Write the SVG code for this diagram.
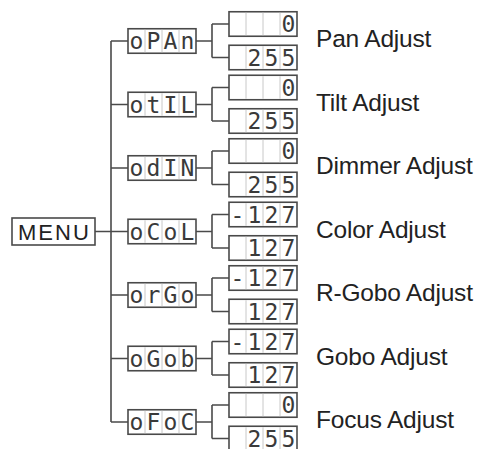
<svg xmlns="http://www.w3.org/2000/svg" width="482" height="449" viewBox="0 0 482 449">
<style>
.box{fill:#fff;stroke:#4a4a4a;stroke-width:1.6}
.div{stroke:#c8c8c8;stroke-width:1}
.seg{font-family:"DejaVu Sans Mono",monospace;font-size:23px;fill:#3a3a3a;text-anchor:middle}
.lbl{font-family:"Liberation Sans",Arial,sans-serif;font-size:24.5px;fill:#222;letter-spacing:-0.2px}
.menu{font-family:"Liberation Sans",Arial,sans-serif;font-size:22px;fill:#222;letter-spacing:2px}
.con{fill:none;stroke:#4a4a4a;stroke-width:1.6}
</style>
<defs>
<g id="cells">
<rect class="box" x="0" y="0" width="68" height="24.5"/>
<line class="div" x1="17" y1="1" x2="17" y2="23.5"/>
<line class="div" x1="34" y1="1" x2="34" y2="23.5"/>
<line class="div" x1="51" y1="1" x2="51" y2="23.5"/>
</g>
</defs>
<rect width="482" height="449" fill="#fff"/>
<g id="connectors">
<path class="con" d="M95 231.5H111M111 41V422"/>
<path class="con" d="M111 41H128M196 41H212M212 24V57.5M212 24H229M212 57.5H229"/>
<path class="con" d="M111 104.5H128M196 104.5H212M212 87.5V121M212 87.5H229M212 121H229"/>
<path class="con" d="M111 168H128M196 168H212M212 151V184.5M212 151H229M212 184.5H229"/>
<path class="con" d="M111 231.5H128M196 231.5H212M212 214.5V248M212 214.5H229M212 248H229"/>
<path class="con" d="M111 295H128M196 295H212M212 278V311.5M212 278H229M212 311.5H229"/>
<path class="con" d="M111 358.5H128M196 358.5H212M212 341.5V375M212 341.5H229M212 375H229"/>
<path class="con" d="M111 422H128M196 422H212M212 405V438.5M212 405H229M212 438.5H229"/>
</g>
<g id="menu">
<rect class="box" x="12" y="218" width="83" height="27"/>
<text class="menu" x="18" y="239.5">MENU</text>
</g>
<g id="pan">
<use href="#cells" x="128" y="28.75"/>
<text class="seg" x="136.5 153.5 170.5 187.5" y="49">oPAn</text>
<use href="#cells" x="229" y="11.75"/>
<text class="seg" x="288.5" y="32">0</text>
<use href="#cells" x="229" y="45.25"/>
<text class="seg" x="254.5 271.5 288.5" y="65.5">255</text>
<text class="lbl" x="316" y="47">Pan Adjust</text>
</g>
<g id="tilt">
<use href="#cells" x="128" y="92.25"/>
<text class="seg" x="136.5 153.5 170.5 187.5" y="112.5">otIL</text>
<use href="#cells" x="229" y="75.25"/>
<text class="seg" x="288.5" y="95.5">0</text>
<use href="#cells" x="229" y="108.75"/>
<text class="seg" x="254.5 271.5 288.5" y="129">255</text>
<text class="lbl" x="316" y="110.5">Tilt Adjust</text>
</g>
<g id="dimmer">
<use href="#cells" x="128" y="155.75"/>
<text class="seg" x="136.5 153.5 170.5 187.5" y="176">odIN</text>
<use href="#cells" x="229" y="138.75"/>
<text class="seg" x="288.5" y="159">0</text>
<use href="#cells" x="229" y="172.25"/>
<text class="seg" x="254.5 271.5 288.5" y="192.5">255</text>
<text class="lbl" x="316" y="174">Dimmer Adjust</text>
</g>
<g id="color">
<use href="#cells" x="128" y="219.25"/>
<text class="seg" x="136.5 153.5 170.5 187.5" y="239.5">oCoL</text>
<use href="#cells" x="229" y="202.25"/>
<text class="seg" x="237.5 254.5 271.5 288.5" y="222.5">-127</text>
<use href="#cells" x="229" y="235.75"/>
<text class="seg" x="254.5 271.5 288.5" y="256">127</text>
<text class="lbl" x="316" y="237.5">Color Adjust</text>
</g>
<g id="rgobo">
<use href="#cells" x="128" y="282.75"/>
<text class="seg" x="136.5 153.5 170.5 187.5" y="303">orGo</text>
<use href="#cells" x="229" y="265.75"/>
<text class="seg" x="237.5 254.5 271.5 288.5" y="286">-127</text>
<use href="#cells" x="229" y="299.25"/>
<text class="seg" x="254.5 271.5 288.5" y="319.5">127</text>
<text class="lbl" x="316" y="301">R-Gobo Adjust</text>
</g>
<g id="gobo">
<use href="#cells" x="128" y="346.25"/>
<text class="seg" x="136.5 153.5 170.5 187.5" y="366.5">oGob</text>
<use href="#cells" x="229" y="329.25"/>
<text class="seg" x="237.5 254.5 271.5 288.5" y="349.5">-127</text>
<use href="#cells" x="229" y="362.75"/>
<text class="seg" x="254.5 271.5 288.5" y="383">127</text>
<text class="lbl" x="316" y="364.5">Gobo Adjust</text>
</g>
<g id="focus">
<use href="#cells" x="128" y="409.75"/>
<text class="seg" x="136.5 153.5 170.5 187.5" y="430">oFoC</text>
<use href="#cells" x="229" y="392.75"/>
<text class="seg" x="288.5" y="413">0</text>
<use href="#cells" x="229" y="426.25"/>
<text class="seg" x="254.5 271.5 288.5" y="446.5">255</text>
<text class="lbl" x="316" y="428">Focus Adjust</text>
</g>
</svg>
